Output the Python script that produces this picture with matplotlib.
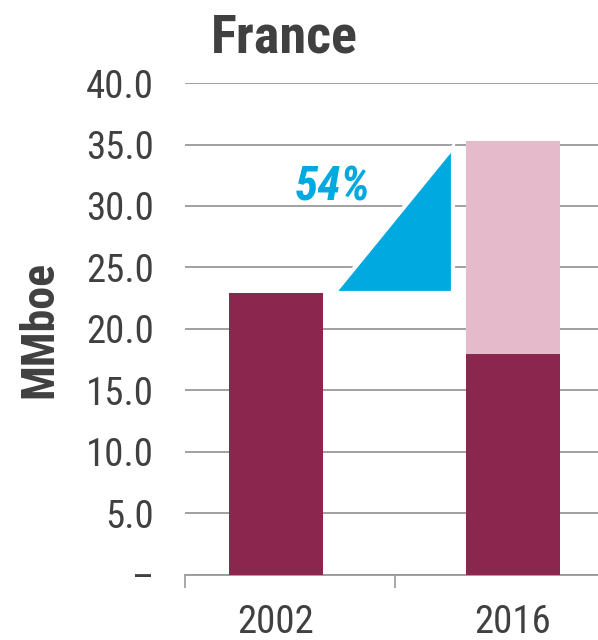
import matplotlib
matplotlib.use('Agg')
import matplotlib.pyplot as plt
from matplotlib import font_manager
from matplotlib.patches import Polygon

years = ['2002', '2016']
base = [22.9, 18.0]
added = [0.0, 17.3]
yticks = [0, 5, 10, 15, 20, 25, 30, 35, 40]
ytick_labels = ['–', '5.0', '10.0', '15.0', '20.0', '25.0', '30.0', '35.0', '40.0']
growth_label = '54%'

# pick a condensed face if there is one
names = set(f.name for f in font_manager.fontManager.ttflist)
fam = 'DejaVu Sans'
for cand in ['Roboto Condensed', 'Liberation Sans Narrow', 'Open Sans Condensed', 'Noto Sans', 'Roboto']:
    if cand in names:
        fam = cand
        break
plt.rcParams['font.family'] = [fam, 'DejaVu Sans']

txt = '#404040'
maroon = '#8B264E'
pink = '#E5BBCB'
blue = '#00A9E0'

fig = plt.figure(figsize=(5.98, 6.40), dpi=100)
ax = fig.add_axes([0.309, 0.1016, 0.691, 0.7687])

x = [0, 1]
w = 0.397
ax.bar(x, base, width=w, color=maroon, zorder=3)
ax.bar(x, added, width=w, bottom=base, color=pink, zorder=3)

# growth triangle from the 2002 level up to the 2016 total
tri = Polygon([[0.245, base[0]], [0.747, base[0]], [0.747, base[1] + added[1] - 0.5]],
              closed=True, facecolor=blue, edgecolor='white', linewidth=3, zorder=4)
ax.add_patch(tri)
ax.text(0.24, 31.5, growth_label, color=blue, fontsize=34, fontweight='bold',
        fontstyle='italic', ha='center', va='center', zorder=5)

ax.set_xlim(-0.384, 1.359)
ax.set_ylim(0, 40)
ax.set_yticks(yticks)
ax.set_yticklabels(ytick_labels)
ax.set_xticks(x)
ax.set_xticklabels(years)
ax.set_xticks([-0.384, 0.502], minor=True)
ax.tick_params(axis='y', length=0, pad=22, labelsize=28, labelcolor=txt)
ax.tick_params(axis='x', which='major', length=0, pad=21, labelsize=28, labelcolor=txt)
ax.tick_params(axis='x', which='minor', length=9, width=1.2, color='#999999', direction='out')

ax.grid(axis='y', color='#999999', linewidth=1.3, zorder=0)
for s in ['top', 'right', 'left']:
    ax.spines[s].set_visible(False)
ax.spines['bottom'].set_color('#999999')
ax.spines['bottom'].set_linewidth(1.3)

ax.set_ylabel('MMboe', fontsize=33, fontweight='bold', color=txt, labelpad=18)
fig.text(0.475, 0.94, 'France', fontsize=39, fontweight='bold', color=txt,
         ha='center', va='center')

fig.savefig('out.png', dpi=100)
